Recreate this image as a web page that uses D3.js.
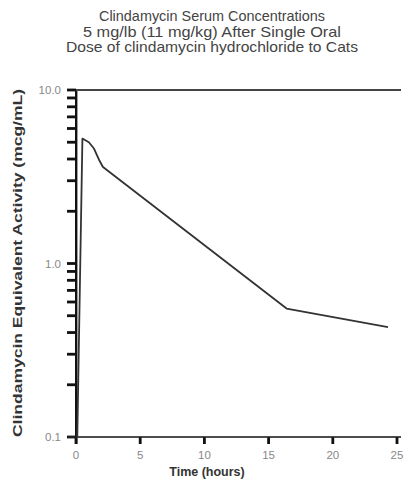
<!DOCTYPE html>
<html><head><meta charset="utf-8">
<script src="https://cdn.jsdelivr.net/npm/d3@7"></script>
<style>body{margin:0;background:#fff}svg{display:block}</style>
</head><body>
<svg id="c" width="409" height="489"></svg>
<script>
const titleLines = ["Clindamycin Serum Concentrations", "5 mg/lb (11 mg/kg) After Single Oral", "Dose of clindamycin hydrochloride to Cats"];
const times = [0.1, 0.5, 1.0, 1.4, 1.8, 2.1, 16.4, 24.3];
const conc  = [0.1, 5.25, 5.0, 4.6, 3.95, 3.6, 0.55, 0.43];
const xTicks = [0, 5, 10, 15, 20, 25];
const yMajor = [0.1, 1.0, 10.0];
const yLabels = ["0.1", "1.0", "10.0"];
const xTitle = "Time (hours)";
const yTitle = "Clindamycin Equivalent Activity (mcg/mL)";

const svg = d3.select("#c");
const x = d3.scaleLinear().domain([0, 25]).range([76, 397]);
const y = d3.scaleLog().domain([0.1, 10]).range([437, 90]);
const FONT = "'Liberation Sans',Arial,sans-serif";

const tw = [226, 258, 292];
titleLines.forEach((t, i) => {
  svg.append("text").attr("x", 212).attr("y", 21 + i * 15.5)
    .attr("text-anchor", "middle")
    .attr("font-family", "'Liberation Sans Narrow','Arial Narrow'," + FONT)
    .attr("font-size", 15).attr("fill", "#444")
    .attr("textLength", tw[i]).attr("lengthAdjust", "spacingAndGlyphs")
    .text(t);
});

const minor = [];
[0.1, 1].forEach(d => { for (let k = 2; k <= 9; k++) minor.push(+(d * k).toFixed(2)); });
const allY = yMajor.concat(minor);

svg.append("g").selectAll("rect").data(allY).join("rect")
  .attr("x", 67).attr("y", d => y(d) - 1.4).attr("width", 9).attr("height", 2.8)
  .attr("fill", "#111");
svg.append("g").selectAll("text").data(yMajor).join("text")
  .attr("x", 61).attr("y", d => y(d) + 4).attr("text-anchor", "end")
  .attr("font-family", FONT).attr("font-size", 11.5).attr("fill", "#888")
  .text((d, i) => yLabels[i]);

svg.append("g").selectAll("rect").data(xTicks).join("rect")
  .attr("x", d => x(d) - 1.4).attr("y", 437).attr("width", 2.8).attr("height", 7)
  .attr("fill", "#111");
svg.append("g").selectAll("text").data(xTicks).join("text")
  .attr("x", d => x(d)).attr("y", 459).attr("text-anchor", "middle")
  .attr("font-family", FONT).attr("font-size", 11.5).attr("fill", "#888").text(d => d);

svg.append("rect").attr("x", 75).attr("y", 89).attr("width", 2.4).attr("height", 355).attr("fill", "#111");
svg.append("rect").attr("x", 68).attr("y", 436.2).attr("width", 333).attr("height", 1.6).attr("fill", "#222");
svg.append("rect").attr("x", 76).attr("y", y(10) - 1).attr("width", 325).attr("height", 2).attr("fill", "#444");

svg.append("text").attr("x", 207).attr("y", 476).attr("text-anchor", "middle")
  .attr("font-family", FONT).attr("font-weight", "bold")
  .attr("font-size", 12.5).attr("fill", "#333").text(xTitle);
svg.append("text").attr("transform", "translate(22,263) rotate(-90)")
  .attr("text-anchor", "middle")
  .attr("font-family", FONT).attr("font-weight", "bold")
  .attr("font-size", 12.5).attr("fill", "#333")
  .attr("textLength", 348).attr("lengthAdjust", "spacingAndGlyphs").text(yTitle);

const pts = times.map((t, i) => [t, conc[i]]);
svg.append("path").datum(pts)
  .attr("d", d3.line().x(d => x(d[0])).y(d => y(d[1])))
  .attr("fill", "none").attr("stroke", "#333").attr("stroke-width", 1.8)
  .attr("stroke-linejoin", "round");
</script>
</body></html>
